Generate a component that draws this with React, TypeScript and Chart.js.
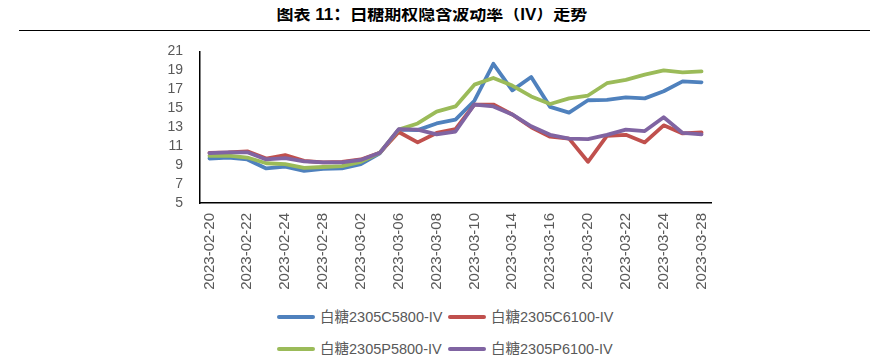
import React, { useEffect, useRef } from "react";
import { Chart, registerables } from "chart.js";

Chart.register(...registerables);

const dates = [
  "2023-02-20", "2023-02-21", "2023-02-22", "2023-02-23", "2023-02-24", "2023-02-27", "2023-02-28",
  "2023-03-01", "2023-03-02", "2023-03-03", "2023-03-06", "2023-03-07", "2023-03-08", "2023-03-09",
  "2023-03-10", "2023-03-13", "2023-03-14", "2023-03-15", "2023-03-16", "2023-03-17", "2023-03-20",
  "2023-03-21", "2023-03-22", "2023-03-23", "2023-03-24", "2023-03-27", "2023-03-28",
];

const c5800 = [9.7, 9.8, 9.6, 8.65, 8.85, 8.4, 8.6, 8.65, 9.1, 10.25, 12.75, 12.7, 13.4, 13.8, 15.8, 19.7, 16.9, 18.3, 15.15, 14.55, 15.85, 15.9, 16.15, 16.05, 16.8, 17.85, 17.75];
const c6100 = [10.3, 10.35, 10.45, 9.7, 10.05, 9.45, 9.3, 9.35, 9.6, 10.3, 12.5, 11.4, 12.4, 12.8, 15.4, 15.4, 14.35, 13.0, 12.0, 11.8, 9.35, 12.1, 12.2, 11.4, 13.2, 12.35, 12.45];
const p5800 = [9.98, 10.0, 9.8, 9.2, 9.1, 8.7, 8.8, 8.9, 9.35, 10.3, 12.75, 13.4, 14.65, 15.2, 17.5, 18.2, 17.4, 16.25, 15.45, 16.05, 16.35, 17.65, 18.0, 18.55, 19.0, 18.8, 18.9];
const p6100 = [10.27, 10.35, 10.35, 9.6, 9.75, 9.4, 9.3, 9.3, 9.55, 10.3, 12.8, 12.75, 12.25, 12.55, 15.4, 15.2, 14.35, 13.1, 12.2, 11.8, 11.75, 12.2, 12.75, 12.6, 14.05, 12.4, 12.25];

const seriesNames = ["白糖2305C5800-IV", "白糖2305C6100-IV", "白糖2305P5800-IV", "白糖2305P6100-IV"];
const seriesColors = ["#4F81BD", "#C0504D", "#9BBB59", "#8064A2"];
const seriesData = [c5800, c6100, p5800, p6100];

const titleText = "图表 11：白糖期权隐含波动率（IV）走势";
const yMin = 5;
const yMax = 21;
const yStep = 2;

const tickFont = "'Liberation Sans', Arial, sans-serif";
const cjkFont = "'Liberation Sans', Arial, 'Noto Sans CJK SC', sans-serif";

export default function App() {
  const canvasRef = useRef<HTMLCanvasElement | null>(null);

  useEffect(() => {
    if (!canvasRef.current) return;
    const chart = new Chart(canvasRef.current, {
      type: "line",
      data: {
        labels: dates,
        datasets: seriesData.map((d, i) => ({
          label: seriesNames[i],
          data: d,
          borderColor: seriesColors[i],
          backgroundColor: seriesColors[i],
          borderWidth: 3.8,
          pointRadius: 0,
          tension: 0,
          borderCapStyle: "round",
          borderJoinStyle: "round",
          order: 3 - i,
        })),
      },
      options: {
        animation: false,
        responsive: false,
        maintainAspectRatio: false,
        layout: { padding: { top: 11.5, right: 170, left: 0, bottom: 0 } },
        plugins: {
          legend: { display: false },
          tooltip: { enabled: false },
          title: { display: false },
        },
        scales: {
          x: {
            type: "category",
            offset: true,
            grid: { display: false, drawTicks: true, tickLength: 7, color: "rgba(0,0,0,0)" },
            border: { display: true, color: "#000", width: 1.5 },
            ticks: {
              autoSkip: false,
              minRotation: 90,
              maxRotation: 90,
              padding: 3,
              color: "#595959",
              font: { family: tickFont, size: 15 },
              callback: (_v: any, idx: number) => (idx % 2 === 0 ? dates[idx] : ""),
            },
            afterFit: (scale: any) => {
              scale.height = 97;
            },
          },
          y: {
            min: yMin,
            max: yMax,
            grid: { display: false, drawTicks: true, tickLength: 14, color: "rgba(0,0,0,0)" },
            border: { display: true, color: "#000", width: 1.5 },
            ticks: {
              stepSize: yStep,
              autoSkip: false,
              padding: 3,
              color: "#595959",
              font: { family: tickFont, size: 14 },
            },
            afterFit: (scale: any) => {
              scale.width = 192;
            },
          },
        },
      },
    });
    return () => chart.destroy();
  }, []);

  const legendRows = [
    [0, 1],
    [2, 3],
  ];
  const rowCenters = [309, 341];
  const sampleLefts = [269, 440];

  return (
    <div style={{ position: "relative", width: 873, height: 347 }}>
      <div
        style={{
          position: "absolute",
          top: -3,
          left: 0,
          width: 848,
          height: 20,
          lineHeight: "20px",
          textAlign: "center",
          fontFamily: "'Liberation Sans', 'Noto Sans CJK SC', sans-serif",
          fontWeight: "bold",
          fontSize: 17,
          color: "#000",
          whiteSpace: "nowrap",
        }}
      >
        {titleText}
      </div>
      <div style={{ position: "absolute", top: 21.5, left: 11, width: 851, height: 1.5, background: "#000" }} />
      <div style={{ position: "absolute", top: 32, left: 0, width: 873, height: 260 }}>
        <canvas ref={canvasRef} width={873} height={260} style={{ width: 873, height: 260, display: "block" }} />
      </div>
      {legendRows.map((row, r) =>
        row.map((si, c) => (
          <React.Fragment key={`${r}-${c}`}>
            <div
              style={{
                position: "absolute",
                left: sampleLefts[c],
                top: rowCenters[r] - 2,
                width: 38,
                height: 4,
                borderRadius: 2,
                background: seriesColors[si],
              }}
            />
            <div
              style={{
                position: "absolute",
                left: sampleLefts[c] + 43,
                top: rowCenters[r] - 10,
                height: 20,
                lineHeight: "20px",
                fontFamily: cjkFont,
                fontSize: 14.5,
                color: "#595959",
                whiteSpace: "nowrap",
              }}
            >
              {seriesNames[si]}
            </div>
          </React.Fragment>
        ))
      )}
    </div>
  );
}
